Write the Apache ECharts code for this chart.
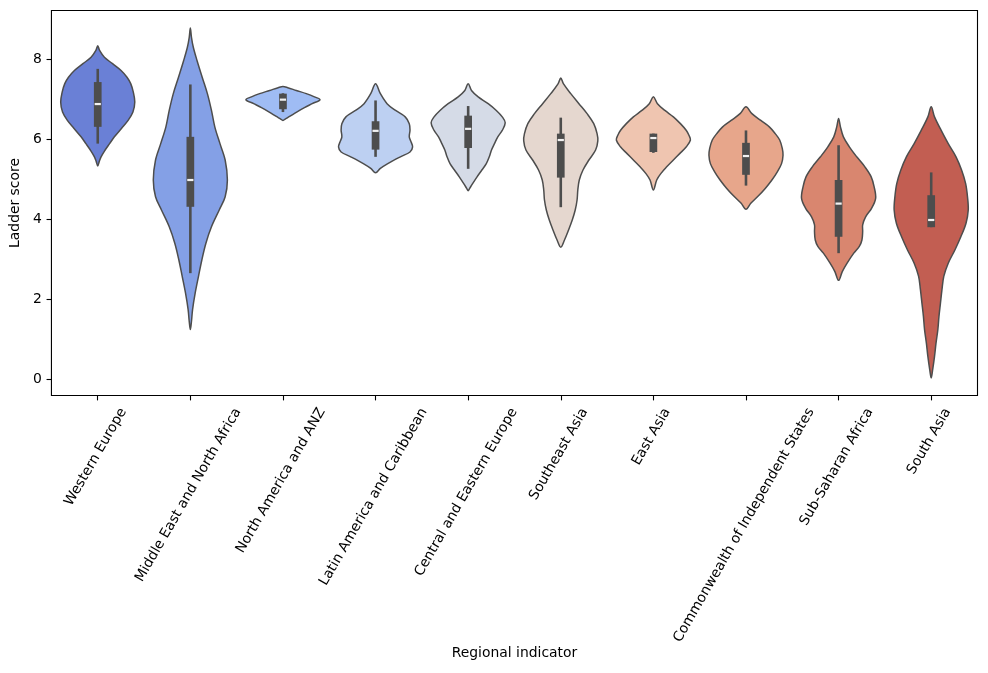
<!DOCTYPE html>
<html><head><meta charset="utf-8">
<script src="https://cdn.jsdelivr.net/npm/echarts@6/dist/echarts.min.js"></script>
<style>html,body{margin:0;padding:0;background:#fff}#c{width:988px;height:673px}</style>
</head><body><div id="c"></div>
<script>
// ---------- data ----------
const regions = ['Western Europe','Middle East and North Africa','North America and ANZ','Latin America and Caribbean','Central and Eastern Europe','Southeast Asia','East Asia','Commonwealth of Independent States','Sub-Saharan Africa','South Asia'];
const colors = ['#6a80d6','#84a0e6','#9fbcf4','#bdd0f2','#d5dbe7','#e5d7cf','#efc5b0','#e7a68b','#d9866f','#c25e52'];
const yTicks = [0,2,4,6,8];

// inner box statistics
const whiskerLow  = [5.90, 2.66, 6.69, 5.57, 5.27, 4.31, 5.67, 4.85, 3.16, 3.81];
const quart1      = [6.32, 4.32, 6.76, 5.75, 5.79, 5.05, 5.69, 5.12, 3.57, 3.81];
const medians     = [6.89, 4.99, 7.00, 6.22, 6.27, 5.99, 6.04, 5.59, 4.40, 3.99];
const quart3      = [7.44, 6.07, 7.15, 6.46, 6.60, 6.15, 6.15, 5.92, 4.99, 4.61];
const whiskerHigh = [7.77, 7.38, 7.16, 6.98, 6.84, 6.55, 6.15, 6.23, 5.86, 5.18];

// violin outlines: [ladder score, relative half-width]
const shapeWesternEurope = [[8.35,0],[8.23,0.05],[8.06,0.18],[7.90,0.40],[7.73,0.63],[7.56,0.79],[7.40,0.89],[7.19,0.96],[6.94,1.0],[6.69,0.95],[6.48,0.82],[6.28,0.64],[6.07,0.45],[5.90,0.32],[5.74,0.20],[5.57,0.09],[5.45,0.04],[5.34,0]];
const shapeMENA = [[8.79,0],[8.56,0.03],[8.31,0.08],[7.98,0.18],[7.56,0.32],[7.15,0.46],[6.73,0.57],[6.32,0.66],[5.90,0.80],[5.49,0.94],[4.99,1.0],[4.57,0.94],[4.24,0.78],[3.82,0.57],[3.41,0.42],[2.99,0.31],[2.58,0.22],[2.16,0.13],[1.75,0.06],[1.45,0.03],[1.25,0]];
const shapeNorthAmerica = [[7.33,0],[7.30,0.13],[7.23,0.36],[7.15,0.63],[7.07,0.85],[7.00,1.0],[6.90,0.79],[6.80,0.58],[6.69,0.37],[6.58,0.18],[6.52,0.07],[6.48,0]];
const shapeLatinAmerica = [[7.40,0],[7.15,0.13],[6.90,0.31],[6.73,0.54],[6.57,0.80],[6.40,0.91],[6.24,0.93],[6.07,0.91],[5.94,0.96],[5.82,1.0],[5.69,0.93],[5.57,0.67],[5.40,0.33],[5.28,0.13],[5.17,0]];
const shapeCentralEastEurope = [[7.40,0],[7.23,0.09],[7.07,0.27],[6.90,0.54],[6.73,0.76],[6.57,0.92],[6.42,1.0],[6.23,0.92],[6.07,0.80],[5.90,0.71],[5.74,0.63],[5.57,0.57],[5.40,0.49],[5.24,0.37],[5.07,0.24],[4.90,0.12],[4.78,0.04],[4.72,0]];
const shapeSoutheastAsia = [[7.54,0],[7.40,0.07],[7.15,0.27],[6.90,0.49],[6.65,0.71],[6.40,0.89],[6.15,0.98],[5.97,1.0],[5.74,0.94],[5.49,0.76],[5.24,0.60],[4.99,0.50],[4.74,0.46],[4.49,0.44],[4.24,0.39],[3.99,0.31],[3.74,0.21],[3.49,0.10],[3.31,0]];
const shapeEastAsia = [[7.07,0],[6.90,0.11],[6.73,0.31],[6.57,0.54],[6.40,0.73],[6.23,0.89],[6.11,0.96],[5.99,1.0],[5.82,0.89],[5.65,0.71],[5.49,0.54],[5.32,0.36],[5.15,0.20],[4.99,0.09],[4.74,0]];
const shapeCIS = [[6.82,0],[6.65,0.16],[6.48,0.40],[6.32,0.63],[6.15,0.79],[5.99,0.91],[5.78,0.98],[5.61,1.0],[5.40,0.96],[5.20,0.85],[4.99,0.70],[4.78,0.52],[4.57,0.31],[4.41,0.13],[4.26,0]];
const shapeSubSaharan = [[6.53,0],[6.32,0.05],[6.07,0.13],[5.82,0.29],[5.57,0.49],[5.32,0.71],[5.07,0.88],[4.82,0.96],[4.53,1.0],[4.28,0.89],[4.07,0.73],[3.87,0.65],[3.70,0.65],[3.49,0.63],[3.33,0.56],[3.16,0.41],[2.91,0.23],[2.70,0.10],[2.48,0]];
const shapeSouthAsia = [[6.82,0],[6.57,0.09],[6.23,0.27],[5.90,0.46],[5.57,0.67],[5.24,0.82],[4.90,0.93],[4.57,0.98],[4.24,1.0],[3.91,0.94],[3.57,0.80],[3.24,0.64],[2.91,0.46],[2.58,0.34],[2.24,0.29],[1.91,0.25],[1.58,0.21],[1.25,0.18],[0.91,0.13],[0.58,0.09],[0.25,0.04],[0.04,0]];
const shapes = [shapeWesternEurope, shapeMENA, shapeNorthAmerica, shapeLatinAmerica, shapeCentralEastEurope, shapeSoutheastAsia, shapeEastAsia, shapeCIS, shapeSubSaharan, shapeSouthAsia];

// ---------- drawing ----------
const FONT_SIZE = 13.9;
const FONT = FONT_SIZE + 'px "DejaVu Sans"';
const LINE = '#4d4d4d';
const measureCtx = document.createElement('canvas').getContext('2d');
measureCtx.font = FONT;

const chart = echarts.init(document.getElementById('c'), null, {renderer: 'canvas'});
const idxData = regions.map((r, i) => [i, 0]);

function violinItem(params, api) {
  const i = api.value(0);
  const shape = shapes[i];
  const band = api.size([1, 0])[0];
  const half = band * 0.4;
  const cx = api.coord([i, 0])[0];
  const right = shape.map(([v, w]) => [cx + w * half, api.coord([i, v])[1]]);
  const left = shape.slice(1, -1).map(([v, w]) => [cx - w * half, api.coord([i, v])[1]]).reverse();
  const pts = right.concat(left);
  const yWl = api.coord([i, whiskerLow[i]])[1];
  const yWh = api.coord([i, whiskerHigh[i]])[1];
  const yQ1 = api.coord([i, quart1[i]])[1];
  const yQ3 = api.coord([i, quart3[i]])[1];
  const yMed = api.coord([i, medians[i]])[1];
  const boxW = 7.7, medW = 6.2;
  return {
    type: 'group',
    children: [
      {type: 'polygon', shape: {points: pts, smooth: 0.35}, style: {fill: colors[i], stroke: LINE, lineWidth: 1.5}},
      {type: 'line', shape: {x1: cx, y1: yWl, x2: cx, y2: yWh}, style: {stroke: LINE, lineWidth: 2.6}},
      {type: 'rect', shape: {x: cx - boxW / 2, y: yQ3, width: boxW, height: yQ1 - yQ3}, style: {fill: LINE}},
      {type: 'rect', shape: {x: cx - medW / 2, y: yMed - 1.1, width: medW, height: 2.2}, style: {fill: '#f2f2f2'}}
    ]
  };
}

function labelItem(params, api) {
  const i = api.value(0);
  const cx = api.coord([i, 0])[0];
  const yBottom = params.coordSys.y + params.coordSys.height;
  const text = regions[i];
  const w = measureCtx.measureText(text).width;
  const h = 16;
  const ang = Math.PI / 3;
  const H = w * Math.sin(ang) + h * Math.cos(ang);
  return {
    type: 'text', x: cx - 2, y: yBottom + 9.7 + H / 2, rotation: ang,
    style: {text: text, x: 0, y: 0, align: 'center', verticalAlign: 'middle', font: FONT, fill: '#000'}
  };
}

chart.setOption({
  animation: false,
  backgroundColor: '#fff',
  grid: {left: 48.5, right: 10.5, top: 10.5, bottom: 277.5, show: true, borderColor: '#000', borderWidth: 1.1, backgroundColor: 'transparent'},
  xAxis: {
    type: 'category', data: regions, boundaryGap: true,
    axisLine: {show: false, onZero: false},
    axisTick: {show: true, interval: 0, alignWithLabel: true, length: 4.9, lineStyle: {color: '#000', width: 1.1}},
    axisLabel: {show: false, interval: 0},
    splitLine: {show: false},
    name: 'Regional indicator', nameLocation: 'middle', nameGap: 251,
    nameTextStyle: {fontFamily: 'DejaVu Sans', fontSize: FONT_SIZE, color: '#000'}
  },
  yAxis: {
    type: 'value', min: -0.4, max: 9.23,
    axisLine: {show: false},
    axisTick: {show: true, length: 4.9, customValues: yTicks, lineStyle: {color: '#000', width: 1.1}},
    axisLabel: {show: true, customValues: yTicks, margin: 9.7, fontFamily: 'DejaVu Sans', fontSize: FONT_SIZE, color: '#000'},
    splitLine: {show: false},
    name: 'Ladder score', nameLocation: 'middle', nameGap: 24, nameRotate: 90,
    nameTextStyle: {fontFamily: 'DejaVu Sans', fontSize: FONT_SIZE, color: '#000'}
  },
  series: [
    {type: 'custom', data: idxData, encode: {x: 0, y: 1}, renderItem: violinItem, clip: false, z: 2, silent: true},
    {type: 'custom', data: idxData, encode: {x: 0, y: 1}, renderItem: labelItem, clip: false, z: 3, silent: true}
  ]
});
</script>
</body></html>
